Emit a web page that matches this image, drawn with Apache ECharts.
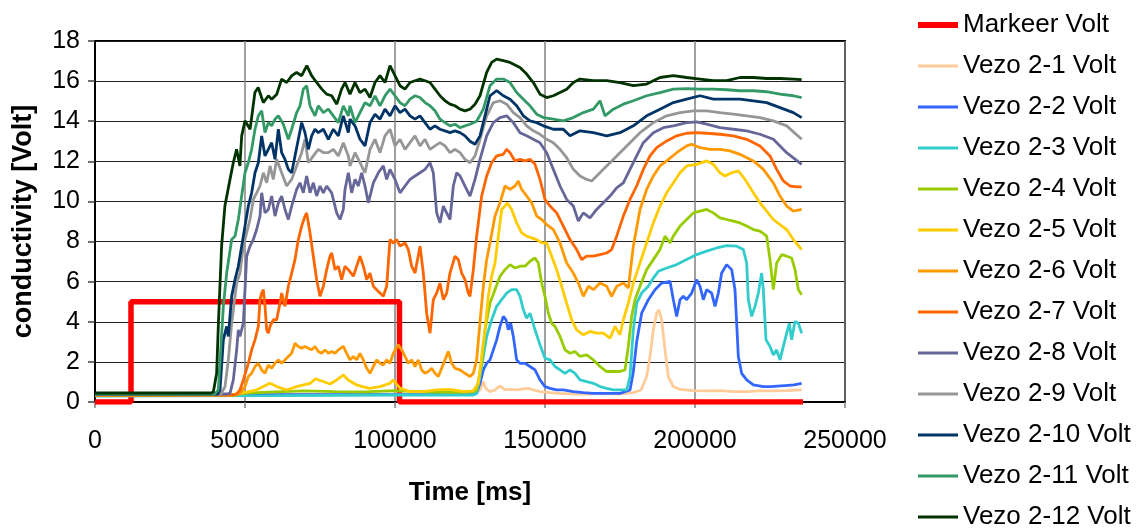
<!DOCTYPE html>
<html>
<head>
<meta charset="utf-8">
<script src="https://cdn.jsdelivr.net/npm/echarts@6/dist/echarts.min.js"></script>
<style>
html,body{margin:0;padding:0;background:#fff;}
#chart{width:1144px;height:529px;}
</style>
</head>
<body>
<div id="chart"></div>
<script>
// ---- data ----
const seriesNames = ["Markeer Volt","Vezo 2-1 Volt","Vezo 2-2 Volt","Vezo 2-3 Volt","Vezo 2-4 Volt","Vezo 2-5 Volt","Vezo 2-6 Volt","Vezo 2-7 Volt","Vezo 2-8 Volt","Vezo 2-9 Volt","Vezo 2-10 Volt","Vezo 2-11 Volt","Vezo 2-12 Volt"];
const yTicks = [0,2,4,6,8,10,12,14,16,18];
const xTicks = [0,50000,100000,150000,200000,250000];

const markeer = [[0,0],[12000,0],[12000,5],[101500,5],[101500,0],[236000,0]];

const vezo1 = [[0,0.35],[126000,0.4],[127222,0.52],[128333,0.6],[129444,1.02],[130200,0.68],[131667,0.52],[133333,0.6],[135000,0.8],[136667,0.6],[138333,0.63],[140556,0.6],[142778,0.65],[144444,0.68],[146111,0.6],[148333,0.52],[151667,0.47],[155000,0.43],[159444,0.4],[163889,0.4],[168333,0.43],[175000,0.4],[179444,0.47],[182000,0.6],[183889,1.27],[185000,2.27],[186111,3.6],[187222,4.43],[188000,4.6],[188889,4.1],[190000,2.6],[191111,1.27],[192778,0.77],[195000,0.63],[199444,0.57],[203889,0.55],[208333,0.57],[212778,0.52],[217222,0.52],[221667,0.55],[226111,0.55],[230556,0.57],[235556,0.6]];

const vezo2 = [[0,0.35],[126000,0.38],[127222,0.43],[128333,0.93],[129444,1.6],[130556,1.93],[131667,2.1],[132778,2.6],[133889,3.1],[135000,3.77],[136111,4.27],[137000,4.1],[137778,3.6],[138556,3.93],[139444,3.27],[140556,2.1],[141667,1.93],[143333,1.93],[145000,1.77],[146667,1.6],[148333,1.1],[150000,0.77],[151667,0.68],[153889,0.6],[156111,0.6],[159444,0.52],[162778,0.47],[166111,0.43],[170556,0.43],[175000,0.43],[178333,0.6],[179444,1.5],[180556,3.0],[182222,4.43],[184444,5.1],[186667,5.6],[188889,5.93],[191667,6.02],[192778,5.1],[193889,4.27],[195000,5.1],[196111,5.27],[197222,5.1],[198889,5.43],[200556,6.1],[201667,5.77],[202778,5.1],[203889,5.6],[205556,5.43],[206667,4.77],[207778,5.43],[208889,6.43],[210556,6.85],[212222,6.6],[213333,5.6],[214444,2.27],[215556,1.43],[217222,1.1],[219444,0.85],[222778,0.77],[225000,0.77],[230000,0.82],[233000,0.85],[235556,0.93]];

const vezo3 = [[0,0.3],[60000,0.32],[100000,0.35],[126000,0.35],[127222,0.43],[128333,1.27],[129444,2.27],[130556,3.27],[132222,4.1],[133889,4.77],[135556,5.1],[137222,5.43],[138889,5.6],[140556,5.6],[141667,5.27],[142778,4.6],[143889,4.18],[145000,4.43],[146667,3.6],[148333,2.85],[150000,2.18],[151667,2.1],[153333,1.77],[155000,1.6],[156667,1.43],[158333,1.6],[160000,1.43],[161667,1.1],[163889,1.02],[166111,0.93],[168333,0.77],[170556,0.68],[172778,0.6],[175000,0.6],[177222,0.6],[178333,1.27],[179444,3.6],[180556,4.93],[182222,5.43],[184444,5.77],[186111,6.18],[187778,6.52],[190556,6.68],[193889,6.85],[197222,7.1],[200556,7.35],[203889,7.52],[207222,7.68],[210556,7.8],[213889,7.77],[216111,7.6],[217222,6.93],[217778,5.1],[218889,4.27],[220000,4.77],[221111,5.43],[222222,6.43],[222778,5.6],[223667,3.1],[225000,2.77],[226111,2.35],[227222,2.6],[228333,2.1],[229444,2.77],[230556,3.43],[231444,3.93],[232222,3.1],[233333,4.02],[234444,3.93],[235556,3.43]];

const vezo4 = [[0,0.35],[46000,0.38],[52000,0.45],[60000,0.5],[70000,0.55],[80000,0.52],[90000,0.5],[100000,0.57],[110000,0.5],[120000,0.48],[126000,0.5],[127222,0.6],[128889,1.93],[130000,3.6],[131667,4.93],[133333,5.6],[135000,6.27],[136667,6.6],[138333,6.85],[140000,6.68],[141667,6.77],[143333,6.77],[145000,7.02],[146667,7.18],[147778,6.93],[148889,5.93],[150000,5.27],[151111,4.43],[152222,3.93],[153333,3.77],[155000,3.27],[156667,2.6],[158333,2.43],[160000,2.52],[161667,2.27],[163889,2.35],[166111,2.1],[168333,1.77],[170556,1.52],[172778,1.52],[175000,1.52],[176667,1.6],[177778,2.77],[178889,4.27],[180000,5.1],[181667,5.77],[183889,6.6],[186111,7.1],[188333,7.6],[190000,8.27],[191667,7.93],[192778,8.27],[195000,8.77],[197222,9.1],[199444,9.43],[201667,9.52],[203889,9.6],[206111,9.43],[208333,9.18],[210556,9.1],[212778,9.02],[215000,8.93],[217222,8.77],[219444,8.6],[221667,8.52],[223889,8.27],[225000,7.1],[226111,5.6],[227222,6.93],[228889,7.35],[230556,7.27],[232222,7.18],[233333,6.6],[234444,5.6],[235556,5.35]];

const vezo5 = [[0,0.35],[46000,0.35],[48300,0.43],[51000,0.5],[53900,0.6],[56100,0.77],[58300,0.93],[60600,0.77],[63900,0.6],[67200,0.77],[69500,0.85],[71700,0.93],[73500,1.15],[76100,1.02],[78300,0.9],[80600,1.1],[82800,1.35],[84400,1.1],[87200,0.85],[89400,0.75],[91700,0.68],[95000,0.77],[98300,0.93],[99400,1.1],[101700,0.68],[105000,0.52],[109400,0.52],[113900,0.6],[118300,0.63],[122800,0.52],[126000,0.55],[127778,0.93],[128889,2.27],[130000,3.6],[131111,5.27],[132222,6.27],[133333,6.93],[134444,8.27],[135556,9.6],[136667,9.77],[137444,9.93],[138889,9.6],[140556,8.93],[142222,8.43],[143889,8.27],[145556,8.18],[147222,8.1],[148889,7.93],[150556,7.93],[152222,7.27],[153889,6.6],[155556,5.77],[157222,4.93],[158889,4.1],[160556,3.6],[162778,3.35],[165000,3.52],[167222,3.43],[169444,3.43],[171667,3.18],[173333,3.77],[175000,3.35],[176111,4.1],[177778,4.93],[179444,5.93],[181667,6.93],[183889,7.93],[186111,8.93],[188333,9.77],[190556,10.43],[192778,10.93],[195000,11.43],[197222,11.77],[200556,11.85],[203889,12.02],[206111,11.85],[208333,11.43],[210000,11.27],[212222,11.43],[214444,11.52],[216667,11.1],[219444,10.43],[221667,9.93],[223889,9.52],[226111,9.1],[228333,8.85],[230556,8.6],[232778,8.1],[235556,7.6]];

const vezo6 = [[0,0.35],[47000,0.35],[48333,0.43],[50000,0.77],[51111,1.27],[52222,1.43],[53333,1.77],[54444,1.93],[55556,1.6],[56667,1.43],[57778,1.85],[58889,1.68],[60000,1.93],[61111,2.1],[62222,1.93],[63333,2.1],[64444,2.27],[65556,2.43],[66667,2.93],[67778,2.77],[68889,2.68],[70000,2.77],[71111,2.68],[72222,2.6],[73333,2.77],[74444,2.52],[75556,2.43],[76667,2.6],[77778,2.43],[78889,2.52],[80000,2.43],[81111,2.6],[82778,2.77],[83889,2.43],[85000,2.1],[86111,2.27],[87222,2.1],[88333,2.43],[89444,2.1],[90556,1.68],[91667,1.43],[92778,1.77],[93889,2.1],[95000,1.93],[96111,1.85],[97222,2.1],[98333,1.93],[99444,2.43],[101111,2.85],[102222,2.6],[103333,2.27],[104444,1.93],[105556,2.1],[106667,1.77],[107778,2.1],[108889,1.6],[110000,1.43],[111111,1.52],[112222,1.68],[113333,1.43],[114444,1.27],[115556,1.68],[116667,2.1],[117778,2.52],[118889,1.93],[120000,1.68],[121667,1.6],[123333,1.43],[125000,1.27],[126111,1.43],[127222,2.1],[128333,4.0],[129444,5.77],[130556,7.1],[131667,7.93],[133333,9.27],[135000,9.93],[136667,10.77],[138333,10.6],[140000,10.77],[141111,11.02],[142222,10.6],[143889,10.27],[145556,9.93],[147222,9.27],[148889,9.1],[150556,8.85],[152778,8.6],[155000,7.93],[157222,6.93],[159444,6.43],[161111,5.93],[162778,5.27],[164444,5.77],[166111,5.6],[168333,5.93],[170556,5.77],[172222,5.27],[173889,5.77],[176111,5.93],[177778,5.68],[179444,7.77],[181667,9.6],[183889,10.6],[186111,11.27],[188333,11.77],[190556,12.02],[193889,12.43],[197222,12.77],[198889,12.85],[201667,12.68],[205000,12.6],[208333,12.6],[211667,12.52],[215000,12.35],[219444,12.02],[222778,11.6],[226111,10.93],[228333,10.27],[230556,9.77],[232778,9.52],[235556,9.6]];

const vezo7 = [[0,0.35],[46000,0.35],[47222,0.4],[48333,0.6],[49444,1.1],[51111,1.93],[52222,2.6],[53333,3.1],[54444,3.77],[55000,5.1],[55556,5.43],[56111,5.6],[56667,4.77],[57222,3.6],[57778,3.43],[58333,3.77],[59444,4.1],[60556,4.1],[61667,4.93],[62222,5.43],[63333,4.77],[64444,5.77],[65556,6.43],[66667,7.1],[67778,8.1],[68889,8.77],[70000,9.27],[70556,9.43],[71667,8.43],[72778,7.27],[73889,6.1],[75000,5.27],[76111,5.77],[77222,6.6],[78333,7.27],[78889,7.43],[80000,6.6],[81111,6.77],[82222,6.1],[83333,6.77],[84444,6.6],[85000,6.6],[86111,6.27],[87222,6.77],[88333,7.27],[89444,6.77],[90556,6.1],[91667,6.43],[92778,5.77],[93889,5.6],[95000,5.43],[96111,5.27],[97222,5.77],[98333,8.1],[99444,7.93],[100556,8.1],[101667,7.77],[103333,7.93],[104444,7.6],[105556,6.77],[106667,6.43],[108333,7.77],[109444,6.43],[110556,4.43],[111667,3.43],[112778,5.1],[113889,5.43],[115000,5.93],[116111,5.1],[117222,5.43],[118333,6.43],[120000,7.27],[121111,7.1],[122222,6.43],[123333,6.1],[124444,5.43],[125000,5.27],[126111,6.6],[127222,8.27],[128889,10.27],[130556,11.27],[132222,11.93],[133889,12.27],[136111,12.35],[137222,12.6],[138333,12.43],[140000,12.02],[141667,12.1],[143333,12.02],[145000,12.1],[146667,11.85],[148333,11.1],[150000,10.1],[151667,9.77],[153889,9.43],[156111,8.77],[158333,8.1],[160556,7.6],[162222,7.1],[163889,7.27],[166111,7.27],[168333,7.35],[170556,7.43],[172222,7.6],[173889,8.27],[176111,9.27],[178333,10.1],[180556,10.77],[182778,11.6],[185000,12.27],[187222,12.68],[190556,13.02],[193889,13.27],[197222,13.4],[200556,13.43],[203889,13.4],[208333,13.35],[212778,13.27],[217222,13.1],[221667,12.77],[225000,12.27],[227222,11.6],[229444,11.02],[231667,10.77],[233889,10.73],[235556,10.73]];

const vezo8 = [[0,0.4],[44000,0.4],[45000,0.43],[46111,1.1],[47222,2.6],[47778,3.6],[48333,3.27],[49444,3.93],[50000,5.6],[50556,7.27],[51667,7.77],[52778,8.1],[53889,8.6],[55000,9.27],[55556,10.43],[56667,9.43],[57778,9.6],[58889,10.27],[60000,9.27],[61111,9.93],[62222,10.27],[63333,9.6],[64444,9.1],[65556,9.77],[67222,10.6],[68333,10.93],[69444,10.43],[70556,11.27],[71667,10.43],[72778,10.93],[73889,10.27],[75000,10.77],[76111,10.43],[77222,10.77],[78889,10.43],[80556,9.43],[81667,9.1],[82778,9.6],[83333,10.6],[84444,11.43],[85556,10.43],[86667,11.1],[87778,10.77],[88889,11.43],[90000,10.77],[91111,9.93],[92778,10.93],[94444,11.43],[96111,11.77],[97222,11.1],[98333,11.6],[100000,11.1],[101667,10.43],[103333,10.77],[105000,11.1],[106667,11.27],[108333,11.43],[110000,11.6],[111667,11.93],[112778,11.43],[113889,9.43],[115000,8.93],[116111,9.77],[117222,9.43],[118333,9.1],[119444,10.77],[120556,11.43],[121667,11.27],[123333,10.77],[125000,10.27],[126667,11.1],[128333,12.1],[130556,13.27],[132778,13.93],[135000,14.18],[137222,14.27],[139444,13.93],[141667,13.43],[143889,13.27],[146111,13.1],[148333,12.93],[150556,12.43],[152778,11.6],[155000,10.77],[157222,10.1],[159444,9.77],[161111,9.02],[162778,9.43],[165000,9.18],[167222,9.6],[169444,9.93],[171667,10.27],[173889,10.68],[176111,10.93],[178333,11.6],[180556,12.27],[182778,12.93],[186111,13.43],[189444,13.68],[192778,13.77],[197222,13.93],[200556,13.97],[203889,13.85],[208333,13.68],[212778,13.6],[217222,13.52],[221667,13.35],[226111,13.1],[230556,12.43],[235556,11.85]];

const vezo9 = [[0,0.4],[42000,0.4],[43333,0.77],[44444,2.1],[45556,3.93],[47222,5.93],[48333,6.43],[49444,7.77],[50556,8.43],[51667,9.1],[52778,10.1],[53889,10.43],[55000,10.77],[56111,11.43],[57222,10.93],[58333,11.77],[59444,11.1],[60556,12.1],[62222,11.43],[63889,10.77],[65556,11.1],[67222,11.77],[68889,12.43],[70000,13.1],[71111,11.93],[72778,12.27],[74444,12.6],[76111,12.43],[77778,12.43],[79444,12.6],[81111,12.27],[82778,12.93],[84444,12.27],[85000,11.77],[86667,12.43],[88333,11.93],[90000,11.43],[91667,12.6],[93333,13.1],[95000,12.43],[96667,13.27],[98333,13.6],[100000,12.77],[101667,13.1],[103333,12.6],[105000,12.93],[106667,13.27],[108333,12.77],[110000,13.1],[111667,12.6],[113333,12.77],[115000,12.93],[116667,12.77],[118333,12.43],[120000,12.6],[121667,12.43],[123333,12.1],[125000,11.93],[126667,12.27],[128333,13.1],[130556,14.27],[132778,14.93],[135000,15.02],[137222,14.85],[139444,14.43],[141667,14.18],[143889,13.77],[146111,13.52],[148333,13.35],[150556,13.1],[152778,12.93],[155000,12.6],[157222,12.18],[159444,11.6],[161667,11.27],[163889,11.1],[165556,11.02],[167222,11.27],[169444,11.6],[171667,11.93],[175000,12.43],[178333,12.93],[181667,13.43],[186111,13.93],[190556,14.27],[195000,14.43],[199444,14.52],[203889,14.52],[208333,14.43],[212778,14.35],[217222,14.27],[221667,14.18],[226111,14.02],[230556,13.77],[235556,13.1]];

const vezo10 = [[0,0.4],[41000,0.4],[41667,0.6],[42778,3.1],[43889,3.77],[44444,3.27],[45556,5.27],[46667,6.1],[47778,6.77],[48889,7.77],[50000,8.77],[51111,9.77],[52222,10.43],[53333,11.43],[54444,11.93],[55556,13.27],[56667,12.27],[57778,12.6],[58889,12.93],[60000,12.1],[61111,13.6],[62222,12.43],[63333,12.1],[64444,11.6],[65556,11.43],[66667,12.27],[67778,13.1],[68889,13.93],[70000,13.43],[71111,12.6],[72222,13.27],[73333,13.6],[74444,13.43],[76111,13.6],[77778,13.1],[79444,13.6],[81111,13.27],[82778,14.27],[84444,13.43],[85000,14.1],[86667,13.77],[88333,13.1],[90000,12.77],[91667,13.93],[93333,14.35],[95000,14.1],[96667,14.6],[98333,14.27],[100000,14.77],[101667,14.43],[103333,14.6],[105000,14.27],[106667,14.1],[108333,14.27],[110000,13.93],[111667,13.6],[113333,13.77],[115000,13.6],[116667,13.52],[118333,13.43],[120000,13.52],[121667,13.43],[123333,13.27],[125000,13.0],[126667,12.85],[128333,13.27],[130000,14.27],[131667,15.27],[133889,15.52],[136111,15.27],[138333,15.1],[140556,14.77],[142778,14.27],[145000,14.02],[147222,13.93],[149444,13.77],[152778,13.6],[156111,13.6],[158333,13.27],[161667,13.52],[166111,13.43],[170556,13.27],[175000,13.43],[179444,13.77],[183889,14.27],[188333,14.6],[192778,14.93],[197222,15.1],[201667,15.27],[206111,15.1],[210556,15.1],[215000,15.1],[219444,15.02],[223889,14.93],[228333,14.68],[232778,14.43],[235556,14.18]];

const vezo11 = [[0,0.4],[40000,0.4],[41100,0.6],[42778,4.77],[43889,6.43],[45556,8.1],[46667,8.27],[47778,9.1],[48889,10.27],[50000,11.43],[51111,11.93],[52222,12.6],[53333,13.6],[54444,14.27],[55556,14.52],[56667,13.43],[57778,13.93],[58889,13.77],[60000,14.1],[61111,14.27],[62778,13.85],[64444,13.1],[65556,13.6],[67222,14.43],[68333,14.77],[69444,15.6],[70556,15.77],[71667,14.77],[73333,14.27],[74444,14.77],[76111,14.43],[77778,14.6],[79444,14.27],[81111,13.93],[82778,14.77],[84444,14.27],[85000,14.77],[86667,13.93],[88333,14.43],[90000,14.93],[91667,14.77],[93333,15.27],[95000,14.77],[96667,15.27],[98333,15.6],[100000,15.27],[101667,14.93],[103333,14.77],[105000,15.1],[106667,15.27],[108333,15.18],[110000,14.93],[111667,14.77],[113333,14.52],[115000,14.1],[116667,13.93],[118333,13.77],[120000,13.85],[121667,13.68],[123333,13.77],[125000,13.85],[127222,14.0],[129444,14.6],[131667,15.77],[133889,16.1],[136111,16.1],[138333,15.93],[140556,15.43],[142778,15.1],[145000,14.77],[147222,14.35],[149444,14.18],[152778,14.1],[156111,14.02],[159444,14.18],[162778,14.43],[166111,14.6],[168333,15.02],[170000,14.27],[172778,14.6],[176111,14.85],[179444,15.02],[183889,15.27],[188333,15.43],[192778,15.6],[197222,15.63],[201667,15.6],[206111,15.6],[210556,15.57],[215000,15.52],[219444,15.52],[223889,15.47],[228333,15.35],[232778,15.27],[235556,15.18]];

const vezo12 = [[0,0.45],[38500,0.45],[39450,0.5],[40550,1.43],[41100,3.77],[42200,7.77],[43300,9.77],[45000,11.1],[46100,11.93],[47200,12.6],[48300,11.77],[48900,13.27],[50000,14.02],[51700,13.6],[53300,15.43],[54400,15.68],[56100,14.93],[57800,15.27],[58900,15.1],[60600,15.35],[62200,16.1],[63900,15.93],[65600,16.27],[67200,16.43],[68900,16.27],[70600,16.77],[72200,16.27],[73900,15.93],[75600,15.6],[77200,15.35],[78900,15.27],[80600,14.85],[82200,15.6],[83333,15.93],[85000,15.35],[86667,15.93],[88333,15.43],[90000,15.6],[91667,15.18],[93333,15.93],[95000,16.27],[96667,15.93],[98333,16.77],[100000,16.27],[101667,15.77],[103333,15.6],[105000,15.93],[106667,16.02],[108333,16.1],[110000,16.02],[111667,15.93],[113333,15.6],[115000,15.27],[116667,15.02],[118333,14.85],[120000,14.77],[121667,14.6],[123333,14.52],[125000,14.6],[126667,14.85],[128333,15.27],[130556,16.43],[132222,16.93],[133889,17.1],[136111,17.02],[138333,16.93],[141667,16.68],[143889,16.35],[146111,15.93],[148333,15.35],[150556,15.18],[152778,15.27],[155000,15.43],[157222,15.6],[159444,15.93],[161667,16.1],[166111,16.02],[170556,16.02],[175000,15.93],[179444,15.77],[183889,15.85],[188333,16.18],[192778,16.27],[197222,16.18],[201667,16.1],[206111,16.02],[210556,16.02],[215000,16.18],[219444,16.18],[223889,16.13],[228333,16.13],[232778,16.1],[235556,16.07]];

const seriesData = [markeer, vezo1, vezo2, vezo3, vezo4, vezo5, vezo6, vezo7, vezo8, vezo9, vezo10, vezo11, vezo12];
const seriesColors = ["#ff0000","#ffcc99","#3366ff","#33cccc","#99cc00","#ffcc00","#ff9900","#ff6600","#666699","#969696","#003366","#339966","#003300"];

// ---- chart ----
const FONT = "'Liberation Sans', Arial, sans-serif";
const chart = echarts.init(document.getElementById('chart'), null, {renderer: 'canvas'});
const series = seriesNames.map((name, i) => ({
  name: name,
  type: 'line',
  data: seriesData[i],
  showSymbol: false,
  symbol: 'none',
  color: seriesColors[i],
  lineStyle: {color: seriesColors[i], width: i === 0 ? 5.5 : 2.8},
  z: 2,
  animation: false
}));

const legendData = seriesNames.map((name, i) => ({
  name: name,
  icon: i === 0 ? 'path://M0,0h40v6h-40z' : 'path://M0,0h40v2.8h-40z',
  itemStyle: {color: seriesColors[i]}
}));

chart.setOption({
  animation: false,
  backgroundColor: '#ffffff',
  textStyle: {fontFamily: FONT},
  grid: {left: 95, right: 299, top: 41, bottom: 127, show: true, borderColor: '#000', borderWidth: 2, backgroundColor: 'transparent'},
  legend: {
    orient: 'vertical',
    left: 913,
    top: 5,
    height: 600,
    itemWidth: 40,
    itemHeight: 14,
    itemGap: 11,
    symbolKeepAspect: true,
    textStyle: {fontFamily: FONT, fontSize: 26, color: '#000', lineHeight: 30},
    data: legendData
  },
  xAxis: {
    type: 'value',
    min: xTicks[0],
    max: xTicks[xTicks.length - 1],
    interval: 50000,
    name: 'Time [ms]',
    nameLocation: 'middle',
    nameGap: 78,
    nameTextStyle: {fontFamily: FONT, fontSize: 26, fontWeight: 'bold', color: '#000'},
    axisLine: {show: true, onZero: false, lineStyle: {color: '#000', width: 2}},
    axisTick: {show: true, length: 6, lineStyle: {color: '#808080', width: 1.5}},
    axisLabel: {fontFamily: FONT, fontSize: 25, color: '#000', margin: 27, formatter: v => String(v)},
    splitLine: {show: true, lineStyle: {color: '#808080', width: 1.5}}
  },
  yAxis: {
    type: 'value',
    min: yTicks[0],
    max: yTicks[yTicks.length - 1],
    interval: 2,
    name: 'conductivity [Volt]',
    nameLocation: 'middle',
    nameGap: 58,
    nameTextStyle: {fontFamily: FONT, fontSize: 27, fontWeight: 'bold', color: '#000'},
    axisLine: {show: true, lineStyle: {color: '#000', width: 2}},
    axisTick: {show: true, length: 7, lineStyle: {color: '#404040', width: 1.5}},
    axisLabel: {fontFamily: FONT, fontSize: 25, color: '#000', margin: 15},
    splitLine: {show: true, lineStyle: {color: '#202020', width: 1.2}}
  },
  series: series
});
</script>
</body>
</html>
